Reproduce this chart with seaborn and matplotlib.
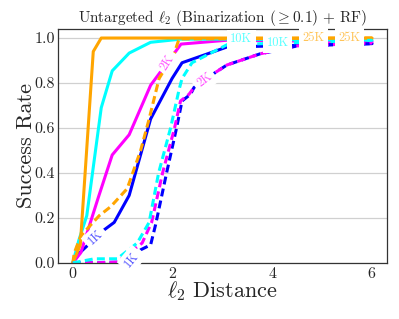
import numpy as np
import pandas as pd
import seaborn as sns
import matplotlib
matplotlib.use('Agg')
import matplotlib.pyplot as plt

# success rate vs l2 distance, one curve per query budget and attack (solid / dashed)
x_25k_a = [0, 0.15, 0.41, 0.57, 3.1, 6.0]
y_25k_a = [0, 0.08, 0.94, 1.0, 1.0, 1.0]
x_10k_a = [0, 0.12, 0.28, 0.57, 0.79, 1.13, 1.56, 2.16, 3.1, 6.0]
y_10k_a = [0, 0.1, 0.21, 0.69, 0.854, 0.933, 0.981, 0.995, 0.995, 0.99]
x_2k_a = [0, 0.16, 0.51, 0.79, 1.13, 1.56, 2.17, 3.08, 6.0]
y_2k_a = [0, 0.045, 0.29, 0.48, 0.57, 0.79, 0.973, 0.99, 0.983]
x_1k_a = [0, 0.13, 0.63, 0.83, 1.13, 1.56, 1.99, 2.19, 3.09, 6.0]
y_1k_a = [0, 0.043, 0.147, 0.18, 0.30, 0.64, 0.82, 0.89, 0.96, 0.975]

x_25k_b = [0, 0.03, 0.16, 0.53, 0.76, 1.09, 1.36, 1.53, 1.73, 2.03, 2.13, 6.0]
y_25k_b = [0, 0.045, 0.12, 0.21, 0.25, 0.33, 0.50, 0.64, 0.82, 0.93, 0.996, 1.0]
x_10k_b = [0, 0.43, 0.89, 1.29, 1.53, 1.72, 1.96, 2.13, 2.19, 2.39, 3.09, 6.0]
y_10k_b = [0, 0.018, 0.018, 0.088, 0.18, 0.40, 0.60, 0.77, 0.82, 0.89, 0.97, 0.99]
x_2k_b = [0, 0.43, 0.9, 1.39, 1.58, 1.80, 2.04, 2.16, 2.33, 2.43, 2.86, 3.09, 3.76, 4.16, 4.5, 6.0]
y_2k_b = [0, 0.0, 0.005, 0.088, 0.18, 0.40, 0.60, 0.72, 0.75, 0.78, 0.847, 0.88, 0.93, 0.948, 0.965, 0.978]
x_1k_b = [0, 0.5, 1.12, 1.36, 1.56, 1.66, 1.88, 2.08, 2.19, 2.36, 2.43, 2.86, 3.09, 3.76, 4.16, 4.5, 6.0]
y_1k_b = [0, 0.0, 0.0, 0.058, 0.08, 0.17, 0.40, 0.60, 0.72, 0.75, 0.78, 0.847, 0.88, 0.93, 0.948, 0.965, 0.975]

budgets = ['1K', '2K', '10K', '25K']
colors = {'1K': '#0000ff', '2K': '#ff00ff', '10K': '#00ffff', '25K': '#ffa500'}

series = [
    ('1K', x_1k_a, y_1k_a, '-'), ('2K', x_2k_a, y_2k_a, '-'),
    ('10K', x_10k_a, y_10k_a, '-'), ('25K', x_25k_a, y_25k_a, '-'),
    ('25K', x_25k_b, y_25k_b, '--'), ('1K', x_1k_b, y_1k_b, '--'),
    ('2K', x_2k_b, y_2k_b, '--'), ('10K', x_10k_b, y_10k_b, '--'),
]

# inline labels: (series index, x position, rotation)
inline = [(0, 0.46, 43), (5, 1.18, 50), (1, 1.9, 57), (6, 2.64, 37),
          (2, 3.38, 0), (7, 4.11, 0), (3, 4.82, 0), (4, 5.55, 0)]

sns.set_style('whitegrid')
plt.rcParams['font.family'] = ['cmr10', 'DejaVu Serif']
plt.rcParams['mathtext.fontset'] = 'cm'
plt.rcParams['axes.formatter.use_mathtext'] = True

fig = plt.figure(figsize=(3.99, 3.19), dpi=100)
ax = fig.add_axes([0.145, 0.176, 0.825, 0.733])

lw = 2.2
for b, xs, ys, ls in series:
    style = '-' if ls == '-' else (0, (2.6, 1.4))
    sns.lineplot(x=xs, y=ys, color=colors[b], linewidth=lw, linestyle=style,
                 sort=False, estimator=None, ax=ax)

for i, xpos, rot in inline:
    b, xs, ys, _ = series[i]
    ypos = np.interp(xpos, xs, ys)
    ax.text(xpos, ypos, b, color=colors[b], alpha=0.65, fontsize=9, rotation=rot,
            ha='center', va='center', rotation_mode='anchor', zorder=5,
            bbox=dict(facecolor='white', edgecolor='none', pad=2.6))

ax.set_xlim(-0.3, 6.3)
ax.set_ylim(0, 1.04)
ax.set_xticks([0, 2, 4, 6])
ax.set_yticks([0, 0.2, 0.4, 0.6, 0.8, 1.0])
ax.set_yticklabels(['%.1f' % v for v in [0, 0.2, 0.4, 0.6, 0.8, 1.0]])
ax.tick_params(labelsize=11.5, pad=2, length=0)
ax.grid(axis='x', visible=False)
ax.grid(axis='y', color='#d0d0d0', linewidth=0.9)
for s in ax.spines.values():
    s.set_color('#333333')
    s.set_linewidth(0.9)

ax.set_title(r'Untargeted $\ell_2$ (Binarization ($\geq 0.1$) + RF)', fontsize=11, pad=5)
ax.set_xlabel(r'$\ell_2$ Distance', fontsize=16, labelpad=-1)
ax.set_ylabel('Success Rate', fontsize=16, labelpad=-1)

fig.savefig('out.png', dpi=100)
